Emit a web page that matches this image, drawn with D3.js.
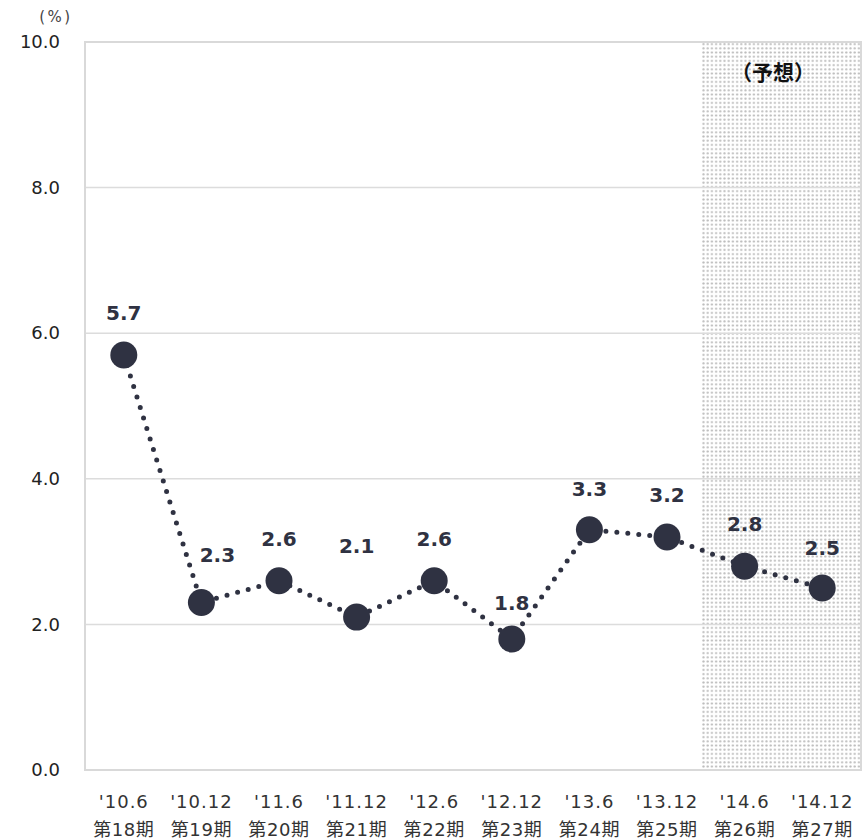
<!DOCTYPE html>
<html>
<head>
<meta charset="utf-8">
<script src="https://cdn.jsdelivr.net/npm/d3@7"></script>
<style>
  html, body { margin: 0; padding: 0; background: #fff; }
  svg { display: block; }
</style>
</head>
<body>
<svg id="chart" width="866" height="840"></svg>
<script>
// Period labels (fiscal month / term number)
const months = ["'10.6", "'10.12", "'11.6", "'11.12", "'12.6", "'12.12", "'13.6", "'13.12", "'14.6", "'14.12"];
const terms = ["第18期", "第19期", "第20期", "第21期", "第22期", "第23期", "第24期", "第25期", "第26期", "第27期"];
const rates = [5.7, 2.3, 2.6, 2.1, 2.6, 1.8, 3.3, 3.2, 2.8, 2.5];
const forecastFrom = "'14.6";
const yTicks = [0, 2, 4, 6, 8, 10];

// Individual nudges for value labels [dx, dy above point]
const labelNudge = [[0, 42], [16, 48], [0, 42], [0, 71], [0, 42], [0, 36], [0, 41], [0, 42], [0, 42], [0, 40]];

const svg = d3.select("#chart");
const margin = { left: 85, right: 5, top: 42, bottom: 70 };
const W = 866, H = 840;
const latin = "'DejaVu Sans', Verdana, sans-serif";
const cjk = "'DejaVu Sans', 'Noto Sans CJK JP', sans-serif";
const ink = "#2f3242";

const x = d3.scaleBand().domain(months).range([margin.left, W - margin.right]);
const y = d3.scaleLinear().domain([0, 10]).range([H - margin.bottom, margin.top]);

// Dotted fill for the forecast area
const defs = svg.append("defs");
const pat = defs.append("pattern")
  .attr("id", "dots").attr("patternUnits", "userSpaceOnUse")
  .attr("width", 4.2).attr("height", 4.2);
pat.append("rect").attr("width", 4.2).attr("height", 4.2).attr("fill", "#fff");
pat.append("circle").attr("cx", 2.1).attr("cy", 2.1).attr("r", 1.15).attr("fill", "#bdbdbd");

// Forecast shading
const fx0 = x(forecastFrom) - x.bandwidth() * 0.06;
svg.append("rect")
  .attr("x", fx0).attr("y", y(10))
  .attr("width", (W - margin.right) - fx0).attr("height", y(0) - y(10))
  .attr("fill", "url(#dots)");

// Horizontal gridlines
svg.append("g").selectAll("line")
  .data(yTicks.filter(t => t > 0 && t < 10))
  .join("line")
  .attr("x1", margin.left).attr("x2", W - margin.right)
  .attr("y1", d => y(d)).attr("y2", d => y(d))
  .attr("stroke", "#dcdcdc").attr("stroke-width", 1.5);

// Plot frame
svg.append("rect")
  .attr("x", margin.left).attr("y", y(10))
  .attr("width", W - margin.right - margin.left).attr("height", y(0) - y(10))
  .attr("fill", "none").attr("stroke", "#d9d9d9").attr("stroke-width", 2);

// Y axis labels
const yAxis = d3.axisLeft(y).tickValues(yTicks).tickFormat(d3.format(".1f")).tickSize(0).tickPadding(25);
const gy = svg.append("g").attr("transform", `translate(${margin.left},0)`).call(yAxis);
gy.select(".domain").remove();
gy.selectAll("text").attr("font-family", latin).attr("font-size", 18).attr("fill", "#222");

svg.append("text")
  .attr("x", 56).attr("y", 22).attr("text-anchor", "middle")
  .attr("font-family", latin).attr("font-size", 15).attr("letter-spacing", 2.5).attr("fill", "#444")
  .text("(%)");

// X axis labels (two lines)
const xAxis = d3.axisBottom(x).tickSize(0).tickPadding(0).tickFormat(() => "");
const gx = svg.append("g").attr("transform", `translate(0,${y(0)})`).call(xAxis);
gx.select(".domain").remove();
gx.selectAll(".tick").each(function(d, i) {
  const t = d3.select(this);
  t.append("text").attr("y", 38).attr("text-anchor", "middle")
    .attr("font-family", latin).attr("font-size", 18).attr("letter-spacing", 1)
    .attr("fill", "#333").text(d);
  t.append("text").attr("y", 66).attr("text-anchor", "middle")
    .attr("font-family", cjk).attr("font-size", 18).attr("letter-spacing", 0.6)
    .attr("fill", "#333").text(terms[i]);
});

// Dotted connecting line
const pts = months.map((m, i) => [x(m) + x.bandwidth() / 2, y(rates[i])]);
svg.append("path")
  .attr("d", d3.line()(pts))
  .attr("fill", "none").attr("stroke", ink)
  .attr("stroke-width", 5).attr("stroke-linecap", "round")
  .attr("stroke-dasharray", "0 11");

// Markers
svg.append("g").selectAll("circle")
  .data(pts).join("circle")
  .attr("cx", d => d[0]).attr("cy", d => d[1]).attr("r", 13.5)
  .attr("fill", ink);

// Value labels
svg.append("g").selectAll("text")
  .data(rates).join("text")
  .attr("x", (d, i) => pts[i][0] + labelNudge[i][0])
  .attr("y", (d, i) => pts[i][1] - labelNudge[i][1] + 7)
  .attr("text-anchor", "middle")
  .attr("font-family", latin).attr("font-size", 20).attr("font-weight", "bold")
  .attr("fill", ink)
  .text(d => d.toFixed(1));

// Forecast caption
svg.append("text")
  .attr("x", 773).attr("y", 80).attr("text-anchor", "middle")
  .attr("font-family", "'Noto Sans CJK JP', sans-serif").attr("font-size", 21).attr("font-weight", "bold")
  .attr("fill", "#111")
  .text("（予想）");
</script>
</body>
</html>
